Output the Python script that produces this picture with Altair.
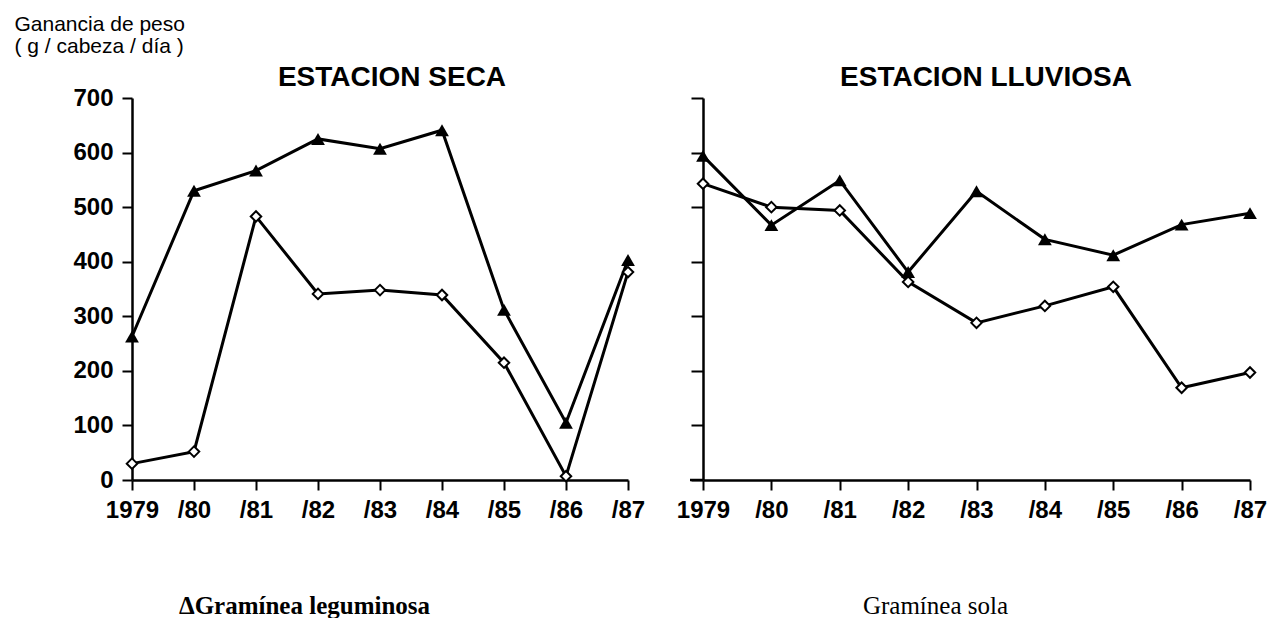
import altair as alt
import pandas as pd

years = ["1979", "/80", "/81", "/82", "/83", "/84", "/85", "/86", "/87"]
seca_leguminosa = [263, 530, 567, 625, 607, 641, 312, 105, 403]
seca_sola = [30, 52, 483, 341, 348, 339, 215, 7, 381]
lluviosa_leguminosa = [594, 467, 549, 381, 529, 441, 412, 468, 489]
lluviosa_sola = [543, 500, 494, 363, 288, 319, 354, 169, 197]
y_ticks = [0, 100, 200, 300, 400, 500, 600, 700]

panel_titles = ["ESTACION SECA", "ESTACION LLUVIOSA"]
y_title = ["Ganancia de peso", "( g / cabeza / día )"]
x_titles = ["\u0394Gramínea leguminosa", "Gramínea sola"]


def make_df(leg, sola):
    rows = []
    for y, v in zip(years, leg):
        rows.append({"year": y, "series": "leg", "value": v})
    for y, v in zip(years, sola):
        rows.append({"year": y, "series": "sola", "value": v})
    return pd.DataFrame(rows)


SANS = "Liberation Sans"
SERIF = "Liberation Serif"


def panel(df, w, h, ptitle, title_x, xtitle, xtitle_x, xtitle_weight, left):
    xaxis = alt.Axis(
        title=xtitle, titleX=xtitle_x, titleY=133, titleAlign="center",
        titleBaseline="alphabetic", titleFont=SERIF, titleFontSize=25,
        titleFontWeight=xtitle_weight, titleColor="black",
        labelAngle=0, labelFont=SANS, labelFontSize=24, labelFontWeight="bold",
        labelColor="black", labelPadding=8, tickSize=10, tickWidth=2,
        tickColor="black", domainColor="black", domainWidth=2.5, grid=False,
    )
    if left:
        yaxis = alt.Axis(
            values=y_ticks, title=y_title, titleAngle=0, titleX=-118, titleY=-68,
            titleAlign="left", titleBaseline="alphabetic", titleFont=SANS,
            titleFontSize=21, titleFontWeight="normal", titleLineHeight=22,
            titleColor="black",
            labelFont=SANS, labelFontSize=24, labelFontWeight="bold",
            labelColor="black", labelPadding=9, tickSize=10, tickWidth=2,
            tickColor="black", domainColor="black", domainWidth=2.5, grid=False,
        )
    else:
        yaxis = alt.Axis(
            values=y_ticks, title=None, labels=False, tickSize=12, tickWidth=2,
            tickColor="black", domainColor="black", domainWidth=2.5, grid=False,
        )
    x = alt.X("year:N", sort=years, scale=alt.Scale(type="point", padding=0), axis=xaxis)
    y = alt.Y("value:Q", scale=alt.Scale(domain=[0, 700], nice=False), axis=yaxis)
    base = alt.Chart(df)
    lines = base.mark_line(color="black", strokeWidth=3).encode(x=x, y=y, detail="series:N")
    tri = base.transform_filter(alt.datum.series == "leg").mark_point(
        shape="triangle-up", size=190, filled=True, color="black", opacity=1
    ).encode(x=x, y=y)
    dia = base.transform_filter(alt.datum.series == "sola").mark_point(
        shape="diamond", size=110, filled=False, fill="white", fillOpacity=1,
        stroke="black", strokeWidth=2, opacity=1
    ).encode(x=x, y=y)
    ttl = alt.Chart(pd.DataFrame({"t": [ptitle]})).mark_text(
        font=SANS, fontSize=28, fontWeight="bold", color="black",
        align="center", baseline="alphabetic"
    ).encode(x=alt.value(title_x), y=alt.value(-12), text="t:N")
    layers = [lines, tri, dia, ttl]
    if not left:
        ext = alt.Chart(pd.DataFrame({"t": [0]})).mark_rule(
            color="black", strokeWidth=2.5
        ).encode(x=alt.value(-13), x2=alt.value(0), y=alt.value(h))
        layers.append(ext)
    return alt.layer(*layers).properties(width=w, height=h)


left = panel(make_df(seca_leguminosa, seca_sola), 496, 382, panel_titles[0], 260,
             x_titles[0], 172, "bold", True)
right = panel(make_df(lluviosa_leguminosa, lluviosa_sola), 547, 382, panel_titles[1], 283,
              x_titles[1], 232, "normal", False)

chart = alt.hconcat(left, right, spacing=31).properties(
    padding={"left": 6, "top": 5, "right": 0, "bottom": 0},
    background="white",
).configure_view(strokeWidth=0, stroke="transparent")

chart.save("out.html", embed_options={"renderer": "svg", "actions": False})
